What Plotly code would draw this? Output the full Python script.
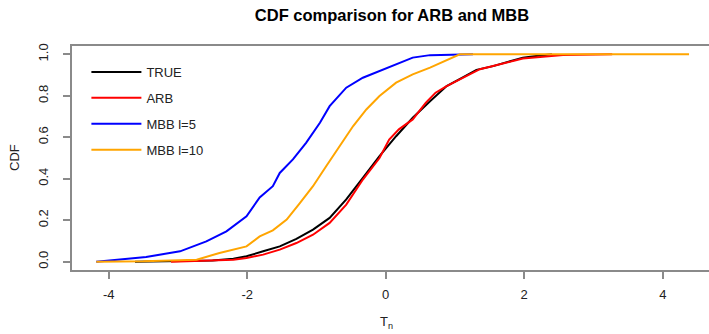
import plotly.graph_objects as go

# ---- data (ECDF curves, x = T_n, y = CDF) ----
true_x = [-3.62, -3.0, -2.5, -2.2, -2.01, -1.77, -1.53, -1.29, -1.05, -0.81, -0.57,
          -0.33, -0.09, 0.15, 0.39, 0.64, 0.88, 1.12, 1.31, 1.55, 1.98, 2.20, 2.40]
true_y = [0.0, 0.003, 0.006, 0.014, 0.026, 0.05, 0.074, 0.11, 0.155, 0.211, 0.30,
          0.404, 0.509, 0.605, 0.694, 0.774, 0.847, 0.89, 0.925, 0.943, 0.984, 0.993, 1.0]

arb_x = [-3.1, -2.6, -2.2, -2.01, -1.77, -1.53, -1.29, -1.05, -0.81, -0.57, -0.33,
         -0.09, 0.05, 0.19, 0.39, 0.58, 0.72, 0.88, 1.12, 1.36, 1.55, 1.98, 2.56, 3.27]
arb_y = [0.0, 0.005, 0.01, 0.018, 0.034, 0.058, 0.09, 0.13, 0.187, 0.275, 0.396,
         0.50, 0.589, 0.638, 0.686, 0.767, 0.815, 0.847, 0.888, 0.928, 0.944, 0.98, 0.997, 1.0]

mbb5_x = [-4.18, -3.8, -3.46, -2.97, -2.59, -2.30, -2.01, -1.82, -1.63, -1.53, -1.34,
          -1.15, -0.95, -0.81, -0.57, -0.33, -0.09, 0.15, 0.39, 0.64, 1.26]
mbb5_y = [0.0, 0.012, 0.023, 0.05, 0.098, 0.146, 0.219, 0.31, 0.364, 0.428, 0.493,
          0.573, 0.67, 0.75, 0.839, 0.887, 0.919, 0.952, 0.984, 0.996, 1.0]

mbb10_x = [-4.18, -3.5, -2.73, -2.40, -2.01, -1.82, -1.63, -1.43, -1.24, -1.05, -0.86,
           -0.66, -0.47, -0.28, -0.09, 0.15, 0.39, 0.64, 0.88, 1.07, 4.38]
mbb10_y = [0.0, 0.002, 0.01, 0.042, 0.074, 0.122, 0.151, 0.203, 0.283, 0.364, 0.46,
           0.557, 0.654, 0.734, 0.799, 0.863, 0.903, 0.936, 0.972, 1.0, 1.0]

x_ticks = [-4, -2, 0, 2, 4]
x_tick_labels = ["-4", "-2", "0", "2", "4"]
y_ticks = [0, 0.2, 0.4, 0.6, 0.8, 1.0]
y_tick_labels = ["0.0", "0.2", "0.4", "0.6", "0.8", "1.0"]

series = [
    ("TRUE", true_x, true_y, "black"),
    ("ARB", arb_x, arb_y, "#FF0000"),
    ("MBB l=5", mbb5_x, mbb5_y, "#0000FF"),
    ("MBB l=10", mbb10_x, mbb10_y, "#FFA500"),
]

fig = go.Figure()
for i, (name, xs, ys, col) in enumerate(series):
    fig.add_trace(go.Scatter(x=xs, y=ys, mode="lines", name=name,
                             line=dict(color=col, width=2),
                             legendgroup=f"g{i}"))

font_family = "Liberation Sans, Arial, sans-serif"
axis_col = "#8a8a8a"
W, H = 709, 334

fig.update_layout(
    width=W, height=H,
    margin=dict(l=72, r=0, t=46, b=64, autoexpand=False),
    paper_bgcolor="white", plot_bgcolor="white",
    font=dict(family=font_family, size=13, color="#222"),
    title=dict(text="<b>CDF comparison for ARB and MBB</b>",
               x=392 / W, xref="container", xanchor="center",
               y=1 - 15 / H, yref="container", yanchor="middle",
               font=dict(size=16.5, color="black")),
    showlegend=True,
    legend=dict(x=0.0226, xanchor="left", y=0.951, yanchor="top",
                bgcolor="rgba(0,0,0,0)", font=dict(size=13, color="#222"),
                tracegroupgap=6, itemwidth=50),
    xaxis=dict(range=[-4.53, 4.668], tickvals=x_ticks, ticktext=x_tick_labels,
               showgrid=False, zeroline=False, automargin=False,
               showline=True, mirror=True, linecolor=axis_col, linewidth=1.5,
               ticks="outside", ticklen=7, tickcolor=axis_col, tickwidth=1.5,
               ticklabelstandoff=5),
    yaxis=dict(range=[-0.04, 1.04], tickvals=y_ticks, ticktext=y_tick_labels,
               tickangle=-90,
               showgrid=False, zeroline=False, automargin=False,
               showline=True, mirror=False, linecolor=axis_col, linewidth=1.5,
               ticks="outside", ticklen=7, tickcolor=axis_col, tickwidth=1.5,
               ticklabelstandoff=10),
    annotations=[
        dict(text="CDF", xref="paper", yref="paper",
             x=(14 - 72) / 637, y=0.5, textangle=-90,
             xanchor="center", yanchor="middle", showarrow=False,
             font=dict(size=13, color="#222")),
        dict(text="T<sub>n</sub>", xref="paper", yref="paper",
             x=(386 - 72) / 637, y=-(322 - 270) / 224,
             xanchor="center", yanchor="middle", showarrow=False,
             font=dict(size=13, color="#222")),
    ],
)

fig.write_html("out.html", config={"displayModeBar": False},
               post_script="document.body.style.margin='0';document.body.style.padding='0';")
